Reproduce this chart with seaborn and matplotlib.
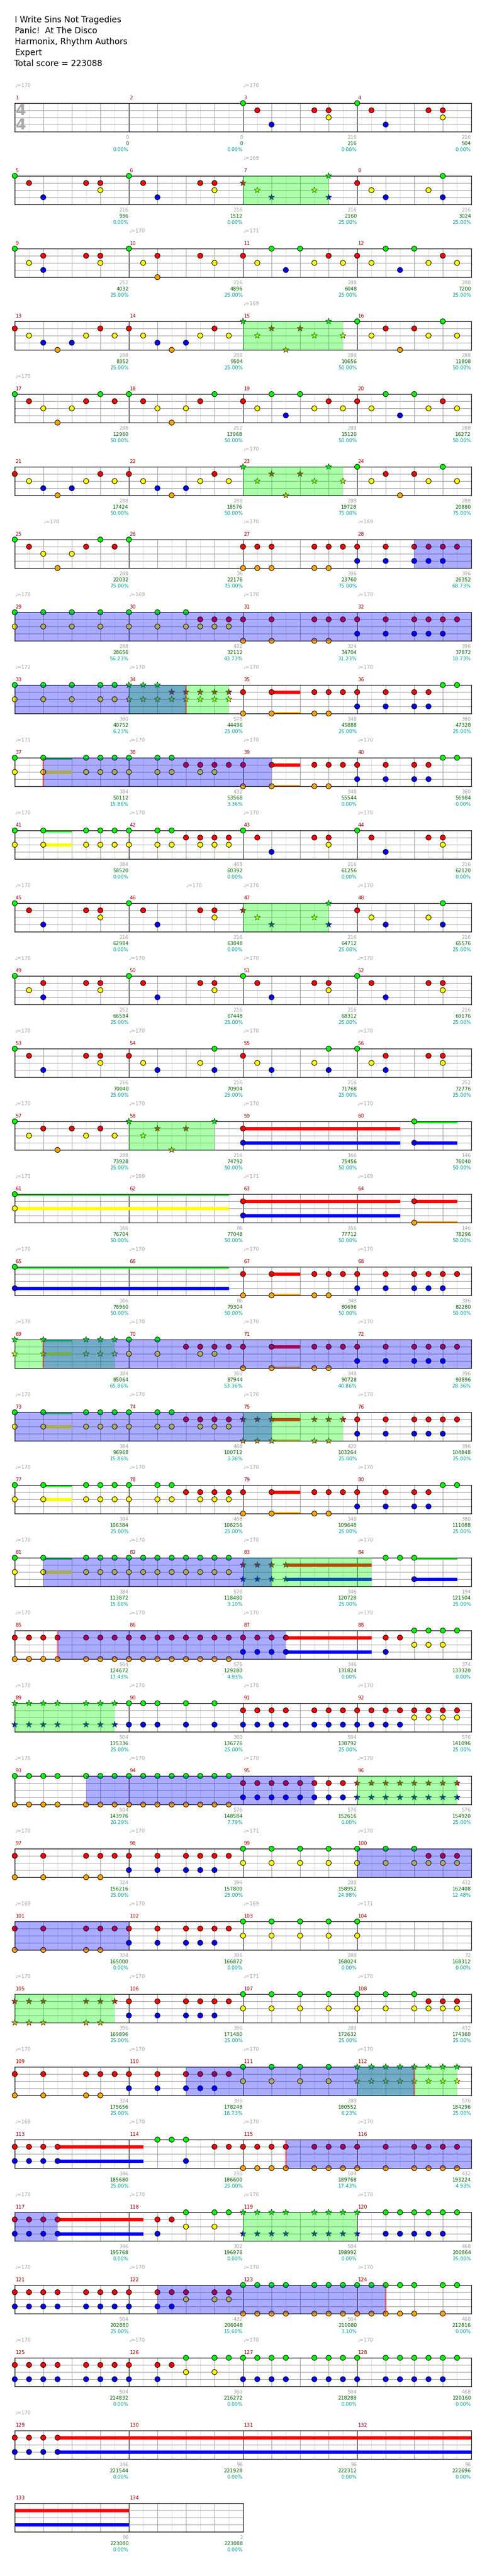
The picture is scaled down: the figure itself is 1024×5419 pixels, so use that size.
import re

import matplotlib
import matplotlib.pyplot as plt
import pandas as pd
import seaborn as sns

matplotlib.use("Agg")

# ---------------------------------------------------------------- data
TITLE_LINES = [
    "I Write Sins Not Tragedies",
    "Panic!  At The Disco",
    "Harmonix, Rhythm Authors",
    "Expert",
    "Total score = 223088",
]

N_MEASURES = 134

# notes per measure: "<pos in eighths><frets>"
NOTES = {
    3: "0G 1R 2B 5R 6RY", 4: "0G 1R 2B 5R 6RY",
    5: "0G 1R 2B 5R 6RY", 6: "0G 1R 2B 5R 6RY",
    7: "0R 1Y 2B 5Y 6GB", 8: "0R 1Y 2B 5Y 6GB",
    9: "0G 1Y 2RB 5R 6RY", 10: "0G 1Y 2RO 5R 6Y",
    11: "0R 1Y 2G 3B 4G 5Y 6R 7Y", 12: "0R 1Y 2G 3B 4G 5Y 6R 7Y",
    13: "0R 1Y 2B 3O 4B 5Y 6R 7Y", 14: "0R 1Y 2B 3O 4B 5Y 6R 7Y",
    15: "0G 1Y 2R 3O 4R 5Y 6G 7Y", 16: "0G 1Y 2R 3O 4R 5Y 6G 7Y",
    17: "0G 1R 2Y 3O 4Y 5R 6G 7R", 18: "0G 1R 2Y 3O 4Y 5R 6G",
    19: "0R 1Y 2G 3B 4G 5Y 6R 7Y", 20: "0R 1Y 2G 3B 4G 5Y 6R 7Y",
    21: "0R 1Y 2B 3O 4B 5Y 6R 7Y", 22: "0R 1Y 2B 3O 4B 5Y 6R 7Y",
    23: "0G 1Y 2R 3O 4R 5Y 6G 7Y", 24: "0G 1Y 2R 3O 4R 5Y 6G 7Y",
    25: "0G 1R 2Y 3O 4Y 5R 6G 7R", 26: "0G",
    27: "0RO 1RO 2RO 5RO 6RO 7R", 28: "0RB 2RB 4RB 5RB 6RB 7R",
    29: "0GY 2GY 4GY 6GY", 30: "0GY 2GY 4GY 5RY 6RY 7RY",
    31: "0RO 2RO 5RO 6RO 7R", 32: "0RB 2RB 4RB 5RB 6RB 7R",
    33: "0GY 2GY 4GY 6GY 7GY", 34: "0GY 1GY 2GY 3RY 4RY 5RY 6RY 7RY",
    35: "0RO 2RO 5RO 6RO 7R", 36: "0RB 2RB 4RB 5RB 6G 7G",
    37: "0GY 2GY 5GY 6GY 7GY", 38: "0GY 2GY 3GY 4R 5RY 6RY 7R",
    39: "0RO 2RO 5RO 6RO 7R", 40: "0RB 2RB 4RB 5RB 6G 7G",
    41: "0GY 2GY 5GY 6GY 7GY", 42: "0GY 2GY 3GY 4R 5RY 6RY 7RY",
    43: "0G 1R 2B 5R 6RY", 44: "0G 1R 2B 5R 6RY",
    45: "0G 1R 2B 5R 6RY", 46: "0G 1R 2B 5R 6RY",
    47: "0R 1Y 2B 5Y 6GB", 48: "0R 1Y 2B 5Y 6GB",
    49: "0G 1Y 2RB 5R 6RY", 50: "0G 1R 2B 5R 6RY",
    51: "0G 1R 2B 5R 6RY", 52: "0G 1R 2B 5R 6RY",
    53: "0G 1R 2B 5R 6RY", 54: "0R 1Y 2B 5Y 6GB",
    55: "0R 1Y 2B 5Y 6GB", 56: "0G 1Y 2RB 5R 6RY",
    57: "0G 1Y 2R 3O 4R 5Y 6R 7Y", 58: "0G 1Y 2R 3O 4R 6G",
    59: "0RB", 60: "4GB", 61: "0GY", 63: "0RB", 64: "4RO", 65: "0GB",
    67: "0RO 2RO 5RO 6RO 7R", 68: "0RB 2RB 4RB 5RB 6RB 7R",
    69: "0GY 2GY 5GY 6GY 7GY", 70: "0GY 2GY 4R 5RY 6RY 7R",
    71: "0RO 2RO 5RO 6RO 7R", 72: "0RB 2RB 4RB 5RB 6RB 7R",
    73: "0GY 2GY 5GY 6GY 7GY", 74: "0GY 2GY 3GY 4R 5RY 6RY 7RY",
    75: "0RO 1RO 2RO 5RO 6RO 7R", 76: "0RB 2RB 4RB 5RB 6RB 7R",
    77: "0GY 2GY 5GY 6GY 7GY", 78: "0GY 2GY 3GY 4R 5RY 6RY 7RY",
    79: "0RO 2RO 5RO 6RO 7R", 80: "0RB 2RB 4RB 5RB 6G 7G",
    81: "0GY 2GY 5GY 6GY 7GY", 82: "0GY 1GY 2GY 3GY 4GY 5GY 6GY 7GY",
    83: "0RB 1RB 2RB 3RB", 84: "2G 3G 4GB",
    85: "0RO 1RO 2RO 3RO 5RO 6RO 7RO", 86: "0RO 1RO 2RO 3RO 4RO 5RO 6RO 7RO",
    87: "0RB 1RB 2RB 3RB", 88: "2RB 3R 4GY 5GY 6GY 7G",
    89: "0GB 1GB 2GB 3GB 5GB 6GB 7GB", 90: "0GB 1GB 2GB 4GB 6GB",
    91: "0RB 1RB 2RB 3RB 5RB 6RB 7RB", 92: "0RB 1RB 2RB 3RB 4RY 5RY 6RY 7RY",
    93: "0GO 1GO 2GO 3GO 5GO 6GO 7GO", 94: "0GO 1GO 2GO 3GO 4GO 5GO 6GO 7GO",
    95: "0RB 1RB 2RB 3RB 4RB 5RB 6RB 7RB", 96: "0RB 1RB 2RB 3RB 4RB 5RB 6RB 7RB",
    97: "0RO 2RO 5RO 6RO 7R", 98: "0RB 2RB 4RB 5RB 6RB 7R",
    99: "0GY 2GY 4GY 6GY", 100: "0GY 2GY 4GY 5RY 6RY 7RY",
    101: "0RO 2RO 5RO 6RO 7R", 102: "0RB 2RB 4RB 5RB 6RB 7R",
    103: "0GY 2GY 4GY 6GY", 104: "0GY",
    105: "0RO 1RO 2RO 5RO 6RO 7R", 106: "0RB 2RB 4RB 5RB 6RB 7R",
    107: "0GY 2GY 4GY 6GY", 108: "0GY 2GY 4GY 5RY 6RY 7RY",
    109: "0RO 2RO 5RO 6RO 7R", 110: "0RB 2RB 4RB 5RB 6RB 7R",
    111: "0GY 2GY 4GY 6GY", 112: "0GY 1GY 2GY 3GY 4GY 5GY 6GY 7GY",
    113: "0RB 1RB 2RB 3RB", 114: "2G 3G 4GB 6R 7R",
    115: "0RO 1RO 2RO 3RO 5RO 6RO 7RO", 116: "0RO 2RO 4RO 5RO 6RO 7RO",
    117: "0RB 1RB 2RB 3RB", 118: "2RB 3R 4GY 6GY 7G",
    119: "0GB 1GB 2GB 3GB 5GB 6GB 7GB", 120: "0GB 2GB 3GB 4GB 5GB 6GB 7G",
    121: "0RB 1RB 2RB 3RB 5RB 6RB 7RB", 122: "0RB 2RB 3RB 4RY 6RY 7RY",
    123: "0GO 1GO 2GO 3GO 5GO 6GO 7GO", 124: "0GO 1GO 2GO 3GO 4GO 6GO 7G",
    125: "0RB 1RB 2RB 3RB 5RB 6RB 7RB", 126: "0RB 2RB 3R 4GY 6GY 7G",
    127: "0GB 1GB 2GB 3GB 5GB 6GB 7GB", 128: "0GB 2GB 3GB 4GB 5GB 6GB 7G",
    129: "0RB 1RB 2RB 3RB",
}

# sustains: (measure, pos, frets, length in eighths)
SUSTAINS = [
    (35, 2, "RO", 2), (37, 2, "GY", 2), (39, 2, "RO", 2), (41, 2, "GY", 2),
    (59, 0, "RB", 11), (60, 4, "GB", 3), (61, 0, "GY", 15), (63, 0, "RB", 11),
    (64, 4, "RO", 3), (65, 0, "GB", 15), (67, 2, "RO", 2), (69, 2, "GY", 2),
    (71, 2, "RO", 2), (73, 2, "GY", 2), (75, 2, "RO", 2), (77, 2, "GY", 2),
    (79, 2, "RO", 2), (81, 2, "GY", 2), (83, 3, "RB", 6), (84, 4, "GB", 3),
    (87, 3, "RB", 6), (113, 3, "RB", 6), (117, 3, "RB", 6), (129, 3, "RB", 37),
]

# star power phrases and overdrive activations: ((measure, pos), (measure, pos))
STAR_PHRASES = [
    ((7, 0), (7, 6)), ((15, 0), (15, 7)), ((23, 0), (23, 7)), ((34, 0), (34, 7)),
    ((47, 0), (47, 6)), ((58, 0), (58, 6)), ((69, 0), (69, 7)), ((75, 0), (75, 7)),
    ((83, 0), (84, 1)), ((89, 0), (89, 7)), ((96, 0), (96, 7)), ((105, 0), (105, 7)),
    ((112, 0), (112, 7)), ((119, 0), (120, 0)),
]
ACTIVATIONS = [
    ((28, 4), (34, 4)), ((37, 2), (39, 2)), ((69, 2), (75, 2)), ((81, 2), (83, 2)),
    ((85, 3), (87, 3)), ((93, 5), (95, 5)), ((100, 0), (102, 0)), ((110, 4), (112, 4)),
    ((115, 3), (117, 3)), ((122, 2), (124, 2)),
]
ACTIVATION_MARKS = [(34, 4), (37, 2), (69, 2), (85, 3), (112, 4), (115, 3), (124, 2)]

# tempo marks: (measure, pos, bpm)
TEMPOS = [
    (1, 0, 170), (3, 0, 170), (7, 0, 169), (10, 0, 170), (11, 0, 171),
    (15, 0, 169), (17, 0, 170), (23, 0, 170), (25, 2, 170), (27, 0, 170),
    (28, 0, 169), (29, 0, 170), (30, 0, 169), (31, 0, 170), (32, 0, 170),
    (33, 0, 172), (34, 0, 170), (35, 0, 170), (36, 0, 170), (37, 0, 171),
    (38, 0, 170), (39, 0, 170), (40, 0, 170), (41, 0, 170), (42, 0, 170),
    (43, 0, 170), (44, 0, 170), (45, 0, 170), (46, 4, 170), (47, 0, 170),
    (48, 0, 170),
] + [(m, 0, 170) for m in range(49, 61)] + [
    (61, 0, 171), (62, 0, 169), (63, 0, 171), (64, 0, 169),
] + [(m, 0, 170) for m in range(65, 99)] + [
    (99, 0, 171), (100, 0, 170), (101, 0, 169), (102, 0, 170), (103, 0, 169),
    (104, 0, 171), (105, 0, 170), (106, 0, 170), (107, 0, 171), (108, 0, 170),
    (109, 0, 170), (110, 0, 170), (111, 0, 170), (112, 0, 170), (113, 0, 169),
] + [(m, 0, 170) for m in range(114, 130)]

MEASURE_PTS = [
    0, 0, 216, 216, 216, 216, 216, 216, 252, 216, 288, 288, 288, 288, 288, 288,
    288, 252, 288, 288, 288, 288, 288, 288, 288, 36, 396, 396, 288, 432, 324, 396,
    360, 576, 348, 360, 384, 432, 348, 360, 384, 468, 216, 216, 216, 216, 216, 216,
    252, 216, 216, 216, 216, 216, 216, 252, 288, 216, 166, 146, 166, 86, 166, 146,
    166, 86, 348, 396, 384, 360, 348, 396, 384, 468, 420, 396, 384, 468, 348, 360,
    384, 576, 346, 194, 504, 576, 346, 374, 504, 360, 504, 576, 504, 576, 576, 576,
    324, 396, 288, 432, 324, 396, 288, 72, 396, 396, 288, 432, 324, 396, 288, 576,
    346, 230, 504, 432, 346, 302, 504, 468, 504, 432, 504, 468, 504, 360, 504, 468,
    346, 96, 96, 96, 96, 2,
]
TOTAL_PTS = [
    0, 0, 216, 504, 936, 1512, 2160, 3024, 4032, 4896, 6048, 7200,
    8352, 9504, 10656, 11808, 12960, 13968, 15120, 16272, 17424, 18576, 19728, 20880,
    22032, 22176, 23760, 26352, 28656, 32112, 34704, 37872, 40752, 44496, 45888, 47328,
    50112, 53568, 55544, 56984, 58520, 60392, 61256, 62120, 62984, 63848, 64712, 65576,
    66584, 67448, 68312, 69176, 70040, 70904, 71768, 72776, 73928, 74792, 75456, 76040,
    76704, 77048, 77712, 78296, 78960, 79304, 80696, 82280, 85064, 87944, 90728, 93896,
    96968, 100712, 103264, 104848, 106384, 108256, 109648, 111088,
    113872, 118480, 120728, 121504, 124672, 129280, 131824, 133320,
    135336, 136776, 138792, 141096, 143976, 148584, 152616, 154920,
    156216, 157800, 158952, 162408, 165000, 166872, 168024, 168312,
    169896, 171480, 172632, 174360, 175656, 178248, 180552, 184296,
    185680, 186600, 189768, 193224, 195768, 196976, 198992, 200864,
    202880, 206048, 210080, 212816, 214832, 216272, 218288, 220160,
    221544, 221928, 222312, 222696, 223080, 223088,
]
PERCENTS = [
    0, 0, 0, 0, 0, 0, 25, 25, 25, 25, 25, 25, 25, 25, 50, 50,
    50, 50, 50, 50, 50, 50, 75, 75, 75, 75, 75, 68.73, 56.23, 43.73, 31.23, 18.73,
    6.23, 25, 25, 25, 15.86, 3.36, 0, 0, 0, 0, 0, 0, 0, 0, 25, 25,
    25, 25, 25, 25, 25, 25, 25, 25, 25, 50, 50, 50, 50, 50, 50, 50,
    50, 50, 50, 50, 65.86, 53.36, 40.86, 28.36, 15.86, 3.36, 25, 25, 25, 25, 25, 25,
    15.60, 3.10, 25, 25, 17.43, 4.93, 0, 0, 25, 25, 25, 25, 20.29, 7.79, 0, 25,
    25, 25, 24.98, 12.48, 0, 0, 0, 0, 25, 25, 25, 25, 25, 18.73, 6.23, 25,
    25, 25, 17.43, 4.93, 0, 0, 0, 25, 25, 15.60, 3.10, 0, 0, 0, 0, 0,
    0, 0, 0, 0, 0, 0,
]

FRETS = "GRYBO"
FRET_COLORS = {"G": "#00ff00", "R": "#ff0000", "Y": "#ffff00", "B": "#0000ff", "O": "#ffa500"}

# ---------------------------------------------------------------- layout (pixels)
W, H, DPI = 1024, 5419, 100
LEFT, MEAS_W, STAFF_H = 31, 240, 60
TOP0, ROW_STEP = 217, 153
PER_ROW = 4
ROW_LEN = PER_ROW * 8


def gpos(m, p):
    return (m - 1) * 8 + p


star_spans = [(gpos(*a), gpos(*b)) for a, b in STAR_PHRASES]
act_spans = [(gpos(*a), gpos(*b)) for a, b in ACTIVATIONS]

records = []
for m, spec in NOTES.items():
    for tok in spec.split():
        pos, frets = re.match(r"([\d.]+)([GRYBO]+)", tok).groups()
        g = gpos(m, float(pos))
        star = any(a <= g <= b for a, b in star_spans)
        for f in frets:
            records.append({"row": int(g // ROW_LEN), "x": g % ROW_LEN,
                            "lane": FRETS.index(f), "fret": f, "star": star})
notes = pd.DataFrame(records)


def split_rows(a, b):
    out = []
    while a < b:
        r = int(a // ROW_LEN)
        end = min(b, (r + 1) * ROW_LEN)
        out.append((r, a - r * ROW_LEN, end - r * ROW_LEN))
        a = end
    return out


sns.set_theme(style="white")
plt.rcParams["font.family"] = ["DejaVu Sans"]

fig = plt.figure(figsize=(W / DPI, H / DPI), dpi=DPI)

for i, line in enumerate(TITLE_LINES):
    fig.text((LEFT - (1 if i == 4 else 0)) / W, 1 - (42 + 23 * i) / H, line,
             fontsize=12.5, ha="left", va="center", color="black")

n_rows = (N_MEASURES + PER_ROW - 1) // PER_ROW
axes = []
for r in range(n_rows):
    n_m = min(PER_ROW, N_MEASURES - r * PER_ROW)
    top = TOP0 + r * ROW_STEP
    ax = fig.add_axes([LEFT / W, 1 - (top + STAFF_H) / H, n_m * MEAS_W / W, STAFF_H / H])
    span = n_m * 8
    for k in range(1, span):
        c = "black" if k % 8 == 0 else ("#9a9a9a" if k % 2 == 0 else "#dddddd")
        ax.axvline(k, color=c, lw=0.8, zorder=1)
    for y in (1, 2, 3):
        ax.axhline(y, color="#9a9a9a", lw=0.8, zorder=1)

    sub = notes[notes.row == r]
    circ = sub[~sub.star]
    stars = sub[sub.star]
    if len(circ):
        sns.scatterplot(data=circ, x="x", y="lane", hue="fret", palette=FRET_COLORS,
                        s=60, marker="o", edgecolor="black", linewidth=0.8,
                        legend=False, ax=ax, zorder=3, clip_on=False)
    if len(stars):
        sns.scatterplot(data=stars, x="x", y="lane", hue="fret", palette=FRET_COLORS,
                        s=95, marker="*", edgecolor="#102010", linewidth=0.6,
                        legend=False, ax=ax, zorder=3, clip_on=False)
    ax.set_xlabel("")
    ax.set_ylabel("")
    ax.set_xlim(0, span)
    ax.set_ylim(4, 0)
    ax.set_xticks([])
    ax.set_yticks([])
    for s in ax.spines.values():
        s.set_visible(True)
        s.set_color("black")
        s.set_linewidth(1.0)
    axes.append(ax)

# sustains
for m, p, frets, length in SUSTAINS:
    g = gpos(m, p)
    for r, x0, x1 in split_rows(g, g + length):
        for f in frets:
            lane = FRETS.index(f)
            axes[r].plot([x0, x1], [lane, lane], color=FRET_COLORS[f], lw=5,
                         solid_capstyle="butt", zorder=2)

# star power / overdrive shading
for spans, col in ((star_spans, "#00ff00"), (act_spans, "#0000ff")):
    for a, b in spans:
        for r, x0, x1 in split_rows(a, b):
            axes[r].axvspan(x0, x1, color=col, alpha=0.33, lw=0, zorder=4)
for m, p in ACTIVATION_MARKS:
    g = gpos(m, p)
    r = int(g // ROW_LEN)
    x = g - r * ROW_LEN
    axes[r].axvspan(x - 0.06, x + 0.06, color="#ff0000", alpha=0.35, lw=0, zorder=4)

# time signature
for y in (1.07, 3.07):
    axes[0].text(0.43, y, "4", fontsize=23, fontweight="bold", color="#aaaaaa",
                 ha="center", va="center", zorder=2)

# measure labels and scores
for m in range(1, N_MEASURES + 1):
    r, c = divmod(m - 1, PER_ROW)
    ax = axes[r]
    ax.text(c * 8 + 0.05, -0.75, str(m), fontsize=7.5, color="#990000",
            ha="left", va="center")
    xe = (c + 1) * 8 - 0.02
    ax.text(xe, 4.8, str(MEASURE_PTS[m - 1]), fontsize=7.5, color="#a0a0a0",
            ha="right", va="center")
    ax.text(xe, 5.67, str(TOTAL_PTS[m - 1]), fontsize=7.5, color="#006400",
            ha="right", va="center")
    ax.text(xe, 6.53, f"{PERCENTS[m - 1]:.2f}%", fontsize=7.5, color="#009999",
            ha="right", va="center")

for m, p, bpm in TEMPOS:
    r, c = divmod(m - 1, PER_ROW)
    axes[r].text(c * 8 + p, -2.47, f"\u2669={bpm}", fontsize=7.5, color="#a0a0a0",
                 ha="left", va="center")

fig.savefig("out.png", dpi=DPI)
plt.close(fig)
